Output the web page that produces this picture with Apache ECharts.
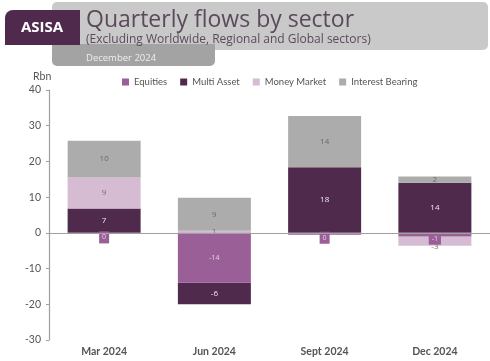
<!DOCTYPE html>
<html><head><meta charset="utf-8">
<script src="https://cdn.jsdelivr.net/npm/echarts@6/dist/echarts.min.js"></script>
<style>html,body{margin:0;padding:0;background:#fff}#c{width:490px;height:361px}</style>
</head><body><div id="c"></div>
<script>
const categories = ['Mar 2024', 'Jun 2024', 'Sept 2024', 'Dec 2024'];
const equities = [-0.3, -14, -0.5, -1];
const multiAsset = [6.8, -6, 18.4, 14];
const moneyMarket = [8.7, 0.6, 0, -2.6];
const interestBearing = [10.3, 9.2, 14.3, 1.8];
const yTicks = [40, 30, 20, 10, 0, -10, -20, -30];

const colors = {eq:'#9a5f97', ma:'#4f2a4d', mm:'#d5bcd3', ib:'#acacac'};
const fmt = p => { const r = Math.round(p.value); return r === 0 ? '0' : String(r); };

const chart = echarts.init(document.getElementById('c'));
function ser(name, data, color, labelColor, extra) {
  return Object.assign({
    name, type: 'bar', stack: 'all', data, barWidth: 73,
    itemStyle: {color},
    label: {show: true, position: 'inside', formatter: fmt, fontSize: 8,
      fontFamily: 'Open Sans', color: labelColor}
  }, extra || {});
}
const eqData = equities.map(v => Math.abs(v) < 2 ? {value: v, label: {offset: [0, 4]}} : v);
const series = [
  ser('Equities', eqData, colors.eq, '#e6d2e5', {
    z: 3,
    label: {show: true, position: 'inside', formatter: fmt, fontSize: 7, fontFamily: 'Open Sans',
      color: '#e6d2e5', backgroundColor: colors.eq, padding: [3, 3, 2, 3]}
  }),
  ser('Multi Asset', multiAsset, colors.ma, '#f2e8f1'),
  ser('Money Market', moneyMarket, colors.mm, '#7a6a78'),
  ser('Interest Bearing', interestBearing, colors.ib, '#6a6a6a', {
    markLine: {silent: true, symbol: 'none', label: {show: false},
      lineStyle: {color: '#a0a0a0', type: 'solid', width: 1.2},
      data: [{yAxis: 0}]}
  })
];
series[2].label.formatter = p => p.value === 0 ? '' : fmt(p);
series[2].data = moneyMarket.map(v => v < -1 ? {value: v, label: {offset: [0, 6]}} : v);

chart.setOption({
  animation: false,
  textStyle: {fontFamily: 'Open Sans'},
  color: [colors.eq, colors.ma, colors.mm, colors.ib],
  grid: {left: 49, right: 0, top: 90, bottom: 21},
  legend: {
    top: 72, left: 117, itemWidth: 7, itemHeight: 7, itemGap: 13, icon: 'rect',
    textStyle: {fontSize: 9.5, color: '#555', fontFamily: 'Lato'},
    data: ['Equities', 'Multi Asset', 'Money Market', 'Interest Bearing']
  },
  xAxis: {
    type: 'category', data: categories,
    axisLine: {show: false, onZero: false}, axisTick: {show: false},
    axisLabel: {fontSize: 10.5, color: '#555', fontWeight: 'bold', margin: 6, fontFamily: 'Lato'}
  },
  yAxis: {
    type: 'value', min: -30, max: 40, interval: 10,
    axisLine: {show: true, lineStyle: {color: '#a0a0a0', width: 1.2}},
    axisTick: {show: true, inside: false, length: 3, lineStyle: {color: '#a0a0a0'}},
    splitLine: {show: false},
    axisLabel: {fontSize: 10.5, color: '#555', margin: 8, fontFamily: 'Lato',
      formatter: v => yTicks.includes(v) ? String(v) : ''}
  },
  graphic: [
    {type: 'rect', shape: {x: 52, y: 2, width: 436, height: 48, r: 5}, style: {fill: '#c9c9c9'}},
    {type: 'rect', shape: {x: 52, y: 44, width: 163, height: 22, r: [0, 0, 5, 5]}, style: {fill: '#a3a3a3'}},
    {type: 'rect', shape: {x: 5, y: 10, width: 75, height: 35, r: [8, 0, 0, 0]}, style: {fill: '#4f2a4d'}},
    {type: 'text', x: 42, y: 28, style: {text: 'ASISA', fill: '#fff', font: 'bold 15px "Open Sans"', textAlign: 'center', textVerticalAlign: 'middle'}},
    {type: 'text', x: 86, y: 20, style: {text: 'Quarterly flows by sector', fill: '#5b4a5b', font: '23px "Open Sans"', textVerticalAlign: 'middle'}},
    {type: 'text', x: 86, y: 40, style: {text: '(Excluding Worldwide, Regional and Global sectors)', fill: '#5b4a5b', font: '12px "Open Sans"', textVerticalAlign: 'middle'}},
    {type: 'text', x: 86, y: 58, style: {text: 'December 2024', fill: '#eeeeee', font: '9.5px "Open Sans"', textVerticalAlign: 'middle'}},
    {type: 'text', x: 33, y: 77, style: {text: 'Rbn', fill: '#555', font: '10.5px Lato', textVerticalAlign: 'middle'}}
  ],
  series
});
</script></body></html>
